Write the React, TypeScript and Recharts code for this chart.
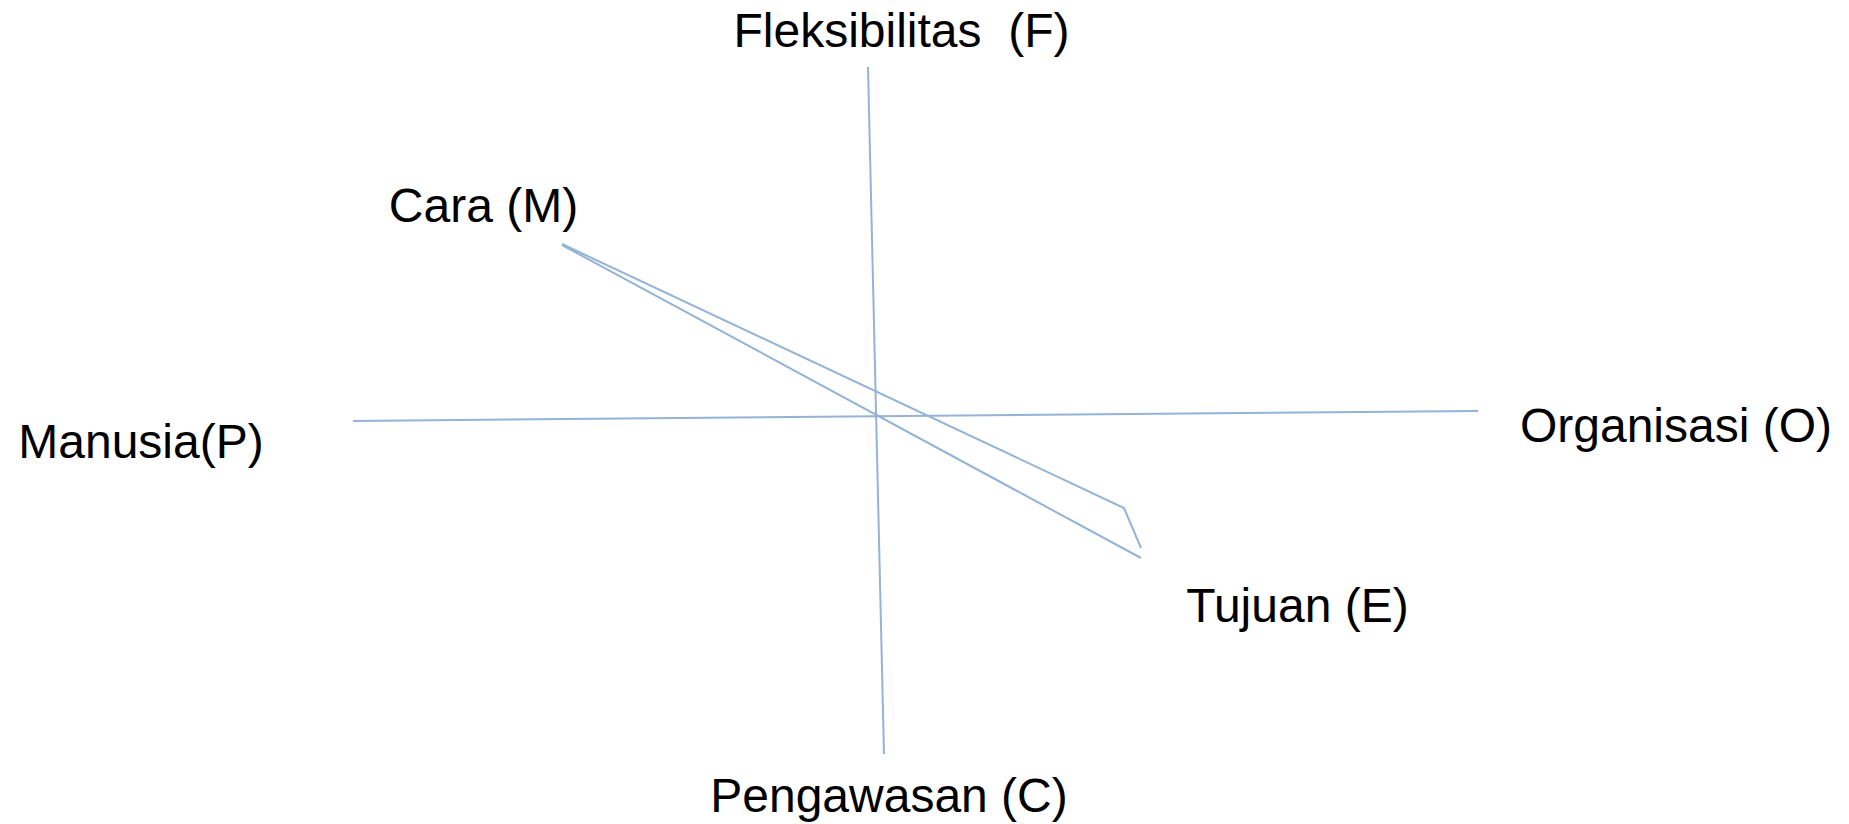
import { ScatterChart, Scatter, XAxis, YAxis } from 'recharts';

// coordinates are measured from the crossing point of the two axes (y up)
const axisFlexControl = [
  { x: -9, y: 349 },
  { x: 7, y: -338 },
];
const axisPeopleOrg = [
  { x: -524, y: -5 },
  { x: 601, y: 5 },
];
const pathMeansEndsUpper = [
  { x: -315, y: 172 },
  { x: 247, y: -92 },
  { x: 264, y: -132 },
];
const pathMeansEndsLower = [
  { x: -315, y: 171 },
  { x: 264, y: -142 },
];

const labelNames = ['Fleksibilitas  (F)', 'Cara (M)', 'Manusia(P)', 'Organisasi (O)', 'Tujuan (E)', 'Pengawasan (C)'];
const labelX = [24.5, -393.5, -736, 799, 420.5, 12];
const labelY = [369, 194, -42, -26, -206, -396];

const labels = labelNames.map((name, i) => ({ name, x: labelX[i], y: labelY[i] }));

const lineColor = '#93b3d7';
const noDot = () => <g />;

const LabelText = (props: any) => (
  <text
    x={props.cx}
    y={props.cy}
    textAnchor="middle"
    fill="#000"
    fontSize={48}
    fontFamily="'Liberation Sans', Arial, sans-serif"
    style={{ whiteSpace: 'pre' }}
  >
    {props.payload.name}
  </text>
);

export default function App() {
  return (
    <div style={{ position: 'absolute', left: 0, top: 0, background: '#fff' }}>
      <ScatterChart width={1849} height={824} margin={{ top: 0, right: 0, bottom: 0, left: 0 }}>
        <XAxis type="number" dataKey="x" domain={[-877, 972]} hide />
        <YAxis type="number" dataKey="y" domain={[-408, 416]} hide />
        <Scatter data={axisFlexControl} line={{ stroke: lineColor, strokeWidth: 2 }} shape={noDot} isAnimationActive={false} />
        <Scatter data={axisPeopleOrg} line={{ stroke: lineColor, strokeWidth: 2 }} shape={noDot} isAnimationActive={false} />
        <Scatter data={pathMeansEndsUpper} line={{ stroke: lineColor, strokeWidth: 2 }} shape={noDot} isAnimationActive={false} />
        <Scatter data={pathMeansEndsLower} line={{ stroke: lineColor, strokeWidth: 2 }} shape={noDot} isAnimationActive={false} />
        <Scatter data={labels} shape={LabelText} isAnimationActive={false} />
      </ScatterChart>
    </div>
  );
}
